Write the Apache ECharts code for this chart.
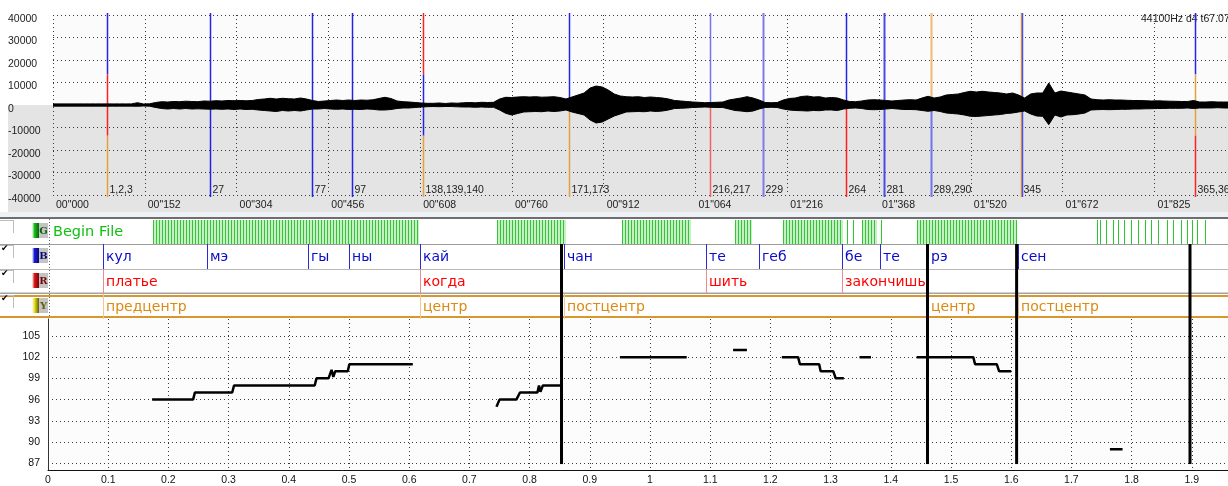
<!DOCTYPE html>
<html><head><meta charset="utf-8">
<script src="https://cdn.jsdelivr.net/npm/echarts@6/dist/echarts.min.js"></script>
<style>html,body{margin:0;padding:0;background:#fff}#c{width:1228px;height:486px}</style>
</head><body><div id="c"></div>
<script>
// ================= DATA =================
// waveform envelope (samples), one value every waveStep seconds
const waveStep = 0.01;
const waveUpper = [
500,500,500,500,500,500,500,500,500,500,500,500,500,500,
1020,440,530,1110,1470,1330,1560,1470,1690,1560,1470,1780,1690,1910,
1780,2000,1910,2000,1870,2000,2440,2670,2980,2670,2980,2800,2670,3110,
2670,2000,1560,1780,2000,2220,2000,2220,2000,2220,2130,2310,2890,3420,
2890,1780,1470,1330,1110,890,750,750,890,670,890,800,980,1110,
980,1200,1110,1200,2670,3420,3330,3560,3690,3560,3690,3470,3560,3690,
3330,2670,3560,4440,5330,7560,8440,8000,6670,4890,4000,3690,3560,3690,
3330,3560,3330,3110,2670,2000,1780,1560,1330,1200,1020,1110,1200,1330,
2220,2670,3110,3690,3110,2220,1110,1020,1110,2220,2890,3110,3780,4000,
3560,3690,3110,3330,3110,2220,1560,1470,1780,2220,2350,2220,2000,1780,
2000,2220,2350,2220,3110,3870,3110,3560,4440,4670,4890,5560,6090,5780,
6090,5780,5560,5330,4890,5330,4440,3110,4890,5330,5330,9780,5330,6220,
5780,5330,4890,4440,2670,2350,2220,2350,2220,2220,2090,2000,2000,1910,
1780,1870,1780,1690,1640,1560,1560,2000,1330,1330,1470,1330,1330,1330];
const waveLower = [
-500,-500,-500,-500,-500,-500,-500,-500,-500,-500,-500,-500,-500,-500,
-580,-440,-530,-1110,-1560,-1780,-1560,-1780,-1560,-1780,-1690,-1780,-1870,-1780,
-1910,-1780,-2000,-1780,-2000,-1910,-2220,-2440,-2670,-2890,-2440,-2670,-2440,-2670,
-2220,-1780,-1780,-1560,-1780,-1910,-1780,-2000,-1910,-2000,-1780,-1910,-2220,-2220,
-2000,-1560,-1330,-1330,-1110,-890,-750,-670,-750,-670,-670,-800,-890,-890,
-1020,-890,-1020,-1020,-2220,-3690,-4440,-3780,-3110,-2980,-2890,-2980,-2670,-2890,
-2670,-2220,-3110,-3780,-4440,-6670,-8000,-7560,-6220,-4890,-4000,-3110,-2980,-2890,
-2980,-2670,-2890,-2670,-2220,-1560,-1470,-1330,-1110,-1020,-890,-1020,-1110,-1110,
-1780,-2440,-2670,-2980,-2670,-1780,-1110,-1020,-1110,-1780,-2220,-2440,-2530,-2670,
-2440,-2530,-2220,-2220,-2440,-1780,-1470,-1330,-1560,-2000,-2090,-2000,-1780,-1560,
-1780,-2000,-2000,-2090,-2440,-2800,-2440,-2890,-3560,-3780,-4000,-4440,-5020,-5110,
-4890,-4670,-4440,-4220,-3780,-3560,-3110,-2670,-4000,-4890,-5020,-8750,-4440,-5330,
-4440,-4310,-4000,-3560,-2220,-2090,-2000,-2090,-2000,-1910,-1910,-1780,-1780,-1690,
-1640,-1560,-1560,-1470,-1470,-1470,-1330,-1560,-1330,-1330,-1330,-1200,-1330,-1330];

const topTimeStep = 0.1520833;
const topTimeLabels = ['00"000','00"152','00"304','00"456','00"608','00"760','00"912','01"064','01"216','01"368','01"520','01"672','01"825'];

// labelled markers of the waveform panel
const markerTimes  = [0.0895,0.2601,0.4292,0.4954,0.6131,0.8550,1.0882,1.1760,1.3140,1.3765,1.4555,1.6040,1.6057,1.8930];
const markerLabels = ['1,2,3','27','77','97','138,139,140','171,173','216,217','229','264','281','289,290','345','','365,366'];
const markerColors = [
  ['#2424e6','#ff2020','#e3a040'],['#2424e6'],['#2424e6'],['#2424e6'],
  ['#ff2020','#2424e6','#e3a040'],['#2424e6','#e3a040'],['#7474ec','#f26464'],['#7c7ce8'],
  ['#2424e6','#ff2020'],['#4a4ae4'],['#f0b870','#7474e6'],['#e3a040'],['#5050e0'],
  ['#2424e6','#e3a040','#ff2020']];
const markerWidths = [1.5,1.5,1.5,1.5,1.5,1.5,1.5,2,1.5,2,2,1.5,1.5,1.5];

// annotation tiers
const gLabel = 'Begin File';
const gDenseStart = [0.1744,0.7458,0.9535,1.1412,1.2209,1.3516,1.4435];
const gDenseEnd   = [0.6163,0.8605,1.0680,1.1694,1.3211,1.3766,1.6096];
const gPulses = [1.3277,1.3377,1.3837,1.742,1.7475,1.7575,1.7686,1.7779,1.7874,1.799,1.8111,1.8223,1.8322,1.8434,1.8583,1.8693,1.8816,1.8915,1.8998,1.9091,1.9219];

const bStarts = [0.0919,0.2636,0.4324,0.5000,0.6180,0.8570,1.0930,1.1816,1.3194,1.3820,1.4618,1.6110];
const bEnds   = [0.2636,0.4324,0.5000,0.6180,0.8570,1.0930,1.1816,1.3194,1.3820,1.4618,1.6110,1.8970];
const bLabels = ['кул','мэ','гы','ны','кай','чан','те','геб','бе','те','рэ','сен'];

const rStarts = [0.0919,0.6180,1.0930,1.3194];
const rEnds   = [0.6180,0.8530,1.3194,1.4590];
const rLabels = ['платье','когда','шить','закончишь'];

const yStarts = [0.0919,0.6180,0.8570,1.4618,1.6110];
const yEnds   = [0.6180,0.8570,1.4618,1.6110,1.8970];
const yLabels = ['предцентр','центр','постцентр','центр','постцентр'];

const phraseBreaks = [0.853,1.461,1.609,1.897];

// pitch track (null = gap)
const pitchTimes = [0.173,0.241,0.244,0.306,0.309,0.443,0.446,0.466,0.471,0.474,0.477,0.498,0.5005,0.606,null,
  0.745,0.750,0.778,0.784,0.813,0.8156,0.818,0.822,0.851,null,
  0.950,1.061,null,1.138,1.161,null,
  1.219,1.246,1.249,1.281,1.2835,1.3045,1.3085,1.322,null,
  1.348,1.367,null,
  1.443,1.537,1.540,1.576,1.580,1.600,null,
  1.764,1.785];
const pitchValues = [96,96,97,97,98,98,99,99,100.2,99.2,100,100,101,101,null,
  95,96,96,97,97,98,97.1,98,98,null,
  102,102,null,103,103,null,
  102,102,101,101,100,100,99,99,null,
  102,102,null,
  102,102,101,101,100,100,null,
  89,89];
const pitchTicks = [87,90,93,96,99,102,105];

// ================= CHART =================
const W = 1228;
const FONT = '"Liberation Sans", Arial, sans-serif';
const TFONT = '"DejaVu Sans", sans-serif';
const chart = echarts.init(document.getElementById('c'), null, {renderer:'canvas'});
const topMax = 1175/603.5;
const pitchMax = 1180/602;
const yMin = 86.06, yMax = 107.385;
const dotted = {type:[1,3], color:'#3a3a3a', width:1};

function renderMarker(params, api){
  const i = params.dataIndex;
  const t = api.value(0);
  const x = Math.round(api.coord([t,0])[0]) + 0.5;
  const w = markerWidths[i];
  const y0 = api.coord([t,40000])[1]-2, y1 = api.coord([t,-40000])[1]+2;
  const cols = markerColors[i], n = cols.length;
  const ch = cols.map((c,k)=>({type:'line', shape:{x1:x,y1:y0+(y1-y0)*k/n,x2:x,y2:y0+(y1-y0)*(k+1)/n}, style:{stroke:c,lineWidth:w}}));
  if (markerLabels[i]) ch.push({type:'text', style:{text:markerLabels[i], x:x+2, y:y1-7, fill:'#222', font:'10.5px '+FONT, align:'left', verticalAlign:'middle', textAlign:'left', textVerticalAlign:'middle'}});
  return {type:'group', children:ch};
}

function tierRenderer(row, lineColor, textColor, labels){
  return function(params, api){
    const s = api.value(0), e = api.value(1);
    const p0 = api.coord([s,row+1]), p1 = api.coord([e,row]);
    const x0 = Math.round(p0[0])+0.5;
    const ch = [{type:'line', shape:{x1:x0,y1:p0[1],x2:x0,y2:p1[1]}, style:{stroke:lineColor,lineWidth:1}}];
    ch.push({type:'text', style:{text:labels[params.dataIndex], x:x0+2.5, y:(p0[1]+p1[1])/2+0.5, fill:textColor, font:'14px '+TFONT,
      width:Math.max(4,p1[0]-x0+2), overflow:'truncate', ellipsis:'', align:'left', verticalAlign:'middle', textAlign:'left', textVerticalAlign:'middle'}});
    return {type:'group', children:ch};
  };
}

function renderDense(params, api){
  const s = api.value(0), e = api.value(1);
  const p0 = api.coord([s,4]), p1 = api.coord([e,3]);
  const x0 = Math.round(p0[0]), x1 = Math.round(p1[0]);
  const y0 = p0[1]+1, y1 = p1[1];
  const ch = [{type:'rect', shape:{x:x0,y:y0,width:x1-x0,height:y1-y0}, style:{fill:'#c6f0c6'}}];
  for (let x = x0+0.5; x <= x1; x += 3) ch.push({type:'line', shape:{x1:x,y1:y0,x2:x,y2:y1}, style:{stroke:'#36c436',lineWidth:1}});
  return {type:'group', children:ch};
}
function renderPulse(params, api){
  const t = api.value(0);
  const p0 = api.coord([t,4]), p1 = api.coord([t,3]);
  const x = Math.round(p0[0])+0.5;
  return {type:'line', shape:{x1:x,y1:p0[1]+1,x2:x,y2:p1[1]}, style:{stroke:'#2ec42e',lineWidth:1}};
}
function renderGLabel(params, api){
  const p0 = api.coord([0,4]), p1 = api.coord([0,3]);
  return {type:'text', style:{text:gLabel, x:p0[0]+5, y:(p0[1]+p1[1])/2+0.5, fill:'#10c010', font:'14.5px '+TFONT, align:'left', verticalAlign:'middle', textAlign:'left', textVerticalAlign:'middle'}};
}
function renderBreakTier(params, api){
  const t = api.value(0);
  const p0 = api.coord([t,3]), p1 = api.coord([t,0]);
  return {type:'line', shape:{x1:p0[0],y1:p0[1],x2:p0[0],y2:p1[1]}, style:{stroke:'#000',lineWidth:3}};
}
function renderBreakPitch(params, api){
  const t = api.value(0);
  const p0 = api.coord([t,yMax]), p1 = api.coord([t,86.9]);
  return {type:'line', shape:{x1:p0[0],y1:p0[1],x2:p0[0],y2:p1[1]}, style:{stroke:'#000',lineWidth:3}};
}

const waveUp = waveUpper.map((v,i)=>[i*waveStep, v]);
const waveLo = waveLower.map((v,i)=>[i*waveStep, v]);
const pitchData = pitchTimes.map((t,i)=> (pitchValues[i]==null || t==null) ? ['-','-'] : [t, pitchValues[i]]);

// chrome (panel backgrounds, separators, tier icons)
const graphics = [
  {type:'rect', z:-5, shape:{x:53,y:13,width:W-53,height:92}, style:{fill:'#fbfbfb'}},
  {type:'rect', z:-5, shape:{x:8,y:105,width:W-8,height:107}, style:{fill:'#e4e4e4'}},
  {type:'rect', z:-5, shape:{x:0,y:212,width:W,height:5}, style:{fill:'#eef1f5'}},
  {type:'rect', z:-5, shape:{x:0,y:217,width:W,height:2}, style:{fill:'#6e6e6e'}},
  {type:'rect', z:-5, shape:{x:48,y:319,width:W-48,height:152}, style:{fill:'#fcfcfc'}},
  {type:'line', z:1, shape:{x1:0,y1:244.5,x2:W,y2:244.5}, style:{stroke:'#9c9c9c',lineWidth:1}},
  {type:'line', z:1, shape:{x1:0,y1:269.5,x2:W,y2:269.5}, style:{stroke:'#b8b8b8',lineWidth:1}},
  {type:'rect', z:1, shape:{x:0,y:292.5,width:W,height:1.5}, style:{fill:'#a4a4a4'}},
  {type:'rect', z:1, shape:{x:0,y:295,width:W,height:2}, style:{fill:'#d9952e'}},
  {type:'rect', z:1, shape:{x:0,y:316,width:W,height:2}, style:{fill:'#d9952e'}},
  {type:'line', z:1, shape:{x1:49.5,y1:219,x2:49.5,y2:316}, style:{stroke:'#666',lineWidth:1,lineDash:[1,2]}},
  {type:'text', z:1, x:1141, y:19, style:{text:'44100Hz d4 t67.07', font:'10.5px '+FONT, fill:'#222', textVerticalAlign:'middle', verticalAlign:'middle'}}
];
const icons = [['G','#18c018','#086008'],['B','#1a1ae0','#0a0a70'],['R','#e01818','#700808'],['Y','#e8e020','#606008']];
icons.forEach((ic,r)=>{
  const y0 = 219 + r*25 + 4;
  graphics.push({type:'rect', z:3, shape:{x:32,y:y0,width:7,height:15}, style:{fill:new echarts.graphic.LinearGradient(0,0,1,0,[{offset:0,color:'#ffffff'},{offset:0.35,color:ic[1]},{offset:1,color:ic[2]}])}});
  graphics.push({type:'rect', z:3, shape:{x:39,y:y0,width:9,height:15}, style:{fill:'#c4c4c4'}});
  graphics.push({type:'text', z:4, x:43.5, y:y0+8, style:{text:ic[0], font:'bold 10px "DejaVu Serif", serif', fill:ic[2], textAlign:'center', align:'center', textVerticalAlign:'middle', verticalAlign:'middle'}});
  graphics.push({type:'rect', z:3, shape:{x:0,y:y0-3,width:14,height:1}, style:{fill:'#bdbdbd'}});
  graphics.push({type:'rect', z:3, shape:{x:13,y:y0-3,width:1,height:13}, style:{fill:'#bdbdbd'}});
  if (r>0) graphics.push({type:'text', z:4, x:1, y:y0+1, style:{text:'✔', font:'9px "DejaVu Sans"', fill:'#000', textVerticalAlign:'middle', verticalAlign:'middle'}});
});

const option = {
  backgroundColor:'#ffffff',
  animation:false,
  graphic: graphics,
  grid:[
    {left:53, top:15, width:1175, height:180},
    {left:48, top:219, width:1180, height:100},
    {left:48, top:319, width:1180, height:152}
  ],
  xAxis:[
    {gridIndex:0, type:'value', min:0, max:topMax, interval:topTimeStep,
     axisLine:{show:false}, axisTick:{show:false}, splitLine:{show:true, lineStyle:dotted},
     axisLabel:{show:true, showMaxLabel:false, margin:5, align:'left', padding:[0,0,0,3], color:'#222', fontSize:10.5, fontFamily:FONT,
       formatter:v=>{const k=Math.round(v/topTimeStep); return Math.abs(v/topTimeStep-k)<1e-4 && topTimeLabels[k]!==undefined ? topTimeLabels[k] : '';}}},
    {gridIndex:1, type:'value', min:0, max:pitchMax, show:false},
    {gridIndex:2, type:'value', min:0, max:pitchMax, interval:0.1,
     axisLine:{show:true, lineStyle:{color:'#111', width:1}}, axisTick:{show:false},
     splitLine:{show:true, lineStyle:dotted},
     axisLabel:{showMaxLabel:false, margin:5, color:'#111', fontSize:10.5, fontFamily:FONT,
       formatter:v=>{const k=Math.round(v*10); return Math.abs(v*10-k)<1e-4 ? String(+(k/10).toFixed(1)) : '';}}}
  ],
  yAxis:[
    {gridIndex:0, type:'value', min:-40000, max:40000, interval:10000,
     axisLine:{show:false}, axisTick:{show:false}, splitLine:{show:true, lineStyle:dotted},
     axisLabel:{margin:45, align:'left', verticalAlign:'top', lineHeight:8, color:'#222', fontSize:10.5, fontFamily:FONT,
       formatter:v=>String(Math.round(v))}},
    {gridIndex:1, type:'value', min:0, max:4, show:false},
    {gridIndex:2, type:'value', min:yMin, max:yMax,
     axisLine:{show:true, lineStyle:{color:'#333', width:1}}, axisTick:{show:false, customValues:pitchTicks},
     splitLine:{show:true, lineStyle:dotted},
     axisLabel:{customValues:pitchTicks, margin:8, color:'#111', fontSize:10.5, fontFamily:FONT}}
  ],
  series:[
    {type:'custom', name:'markers', xAxisIndex:0, yAxisIndex:0, z:2, renderItem:renderMarker, data:markerTimes.map(t=>[t,0]), silent:true},
    {type:'line', name:'waveUpper', xAxisIndex:0, yAxisIndex:0, z:3, data:waveUp, symbol:'none', lineStyle:{color:'#000', width:1}, areaStyle:{color:'#000', opacity:1}, silent:true},
    {type:'line', name:'waveLower', xAxisIndex:0, yAxisIndex:0, z:3, data:waveLo, symbol:'none', lineStyle:{color:'#000', width:1}, areaStyle:{color:'#000', opacity:1}, silent:true},
    {type:'custom', name:'gDense', xAxisIndex:1, yAxisIndex:1, z:2, renderItem:renderDense, data:gDenseStart.map((s,i)=>[s,gDenseEnd[i]]), silent:true},
    {type:'custom', name:'gPulses', xAxisIndex:1, yAxisIndex:1, z:2, renderItem:renderPulse, data:gPulses.map(t=>[t]), silent:true},
    {type:'custom', name:'gLabel', xAxisIndex:1, yAxisIndex:1, z:3, renderItem:renderGLabel, data:[[0]], silent:true},
    {type:'custom', name:'tierB', xAxisIndex:1, yAxisIndex:1, z:3, renderItem:tierRenderer(2,'#2b2bd6','#0c0cc8',bLabels), data:bStarts.map((s,i)=>[s,bEnds[i]]), silent:true},
    {type:'custom', name:'tierR', xAxisIndex:1, yAxisIndex:1, z:3, renderItem:tierRenderer(1,'#f08a8a','#ff0000',rLabels), data:rStarts.map((s,i)=>[s,rEnds[i]]), silent:true},
    {type:'custom', name:'tierY', xAxisIndex:1, yAxisIndex:1, z:3, renderItem:tierRenderer(0,'#f2c890','#dc8a10',yLabels), data:yStarts.map((s,i)=>[s,yEnds[i]]), silent:true},
    {type:'custom', name:'breaksTier', xAxisIndex:1, yAxisIndex:1, z:5, renderItem:renderBreakTier, data:phraseBreaks.map(t=>[t]), silent:true},
    {type:'custom', name:'breaksPitch', xAxisIndex:2, yAxisIndex:2, z:5, renderItem:renderBreakPitch, data:phraseBreaks.map(t=>[t]), silent:true},
    {type:'line', name:'pitch', xAxisIndex:2, yAxisIndex:2, z:4, data:pitchData, connectNulls:false, symbol:'none', lineStyle:{color:'#000', width:2.5}, silent:true}
  ]
};
chart.setOption(option);
</script></body></html>
